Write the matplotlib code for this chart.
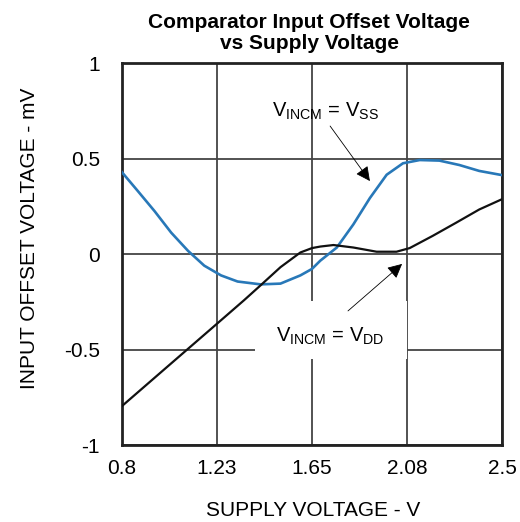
import numpy as np
import matplotlib.pyplot as plt
from matplotlib.patches import Rectangle

plt.rcParams["font.family"] = ["Liberation Sans", "DejaVu Sans"]
plt.rcParams["mathtext.fontset"] = "custom"
plt.rcParams["mathtext.rm"] = "Liberation Sans"
plt.rcParams["mathtext.it"] = "Liberation Sans"

# values
vdd_ss = [0.80, 0.872, 0.946, 1.02, 1.095, 1.168, 1.243, 1.317, 1.42, 1.509,
          1.598, 1.65, 1.687, 1.761, 1.835, 1.909, 1.984, 2.057, 2.132, 2.22,
          2.309, 2.398, 2.50]
vos_ss = [0.428, 0.328, 0.224, 0.112, 0.017, -0.061, -0.112, -0.144, -0.159,
          -0.155, -0.112, -0.078, -0.035, 0.034, 0.155, 0.293, 0.415, 0.475,
          0.492, 0.489, 0.466, 0.435, 0.413]

vdd_dd = [0.80, 1.00, 1.225, 1.346, 1.42, 1.509, 1.598, 1.65, 1.687, 1.746,
          1.835, 1.939, 2.028, 2.087, 2.19, 2.295, 2.398, 2.50]
vos_dd = [-0.796, -0.593, -0.365, -0.242, -0.164, -0.069, 0.008, 0.031, 0.039,
          0.047, 0.034, 0.012, 0.012, 0.031, 0.095, 0.164, 0.233, 0.287]

xticks = [0.8, 1.225, 1.65, 2.075, 2.5]
xlabels = ["0.8", "1.23", "1.65", "2.08", "2.5"]
yticks = [-1, -0.5, 0, 0.5, 1]
ylabels = ["-1", "-0.5", "0", "0.5", "1"]

fig = plt.figure(figsize=(5.2, 5.22), dpi=100)
ax = fig.add_axes([0.2346, 0.1475, 0.7308, 0.7318])

ax.plot(vdd_ss, vos_ss, color="#2878b8", lw=1.9, zorder=3,
        solid_joinstyle="round")
ax.plot(vdd_dd, vos_dd, color="#111111", lw=1.6, zorder=3,
        solid_joinstyle="round")

ax.set_xlim(0.8, 2.5)
ax.set_ylim(-1, 1)
ax.set_xticks(xticks)
ax.set_xticklabels(xlabels)
ax.set_yticks(yticks)
ax.set_yticklabels(ylabels)
ax.tick_params(length=0, labelsize=15)
ax.tick_params(axis="x", pad=10)
ax.tick_params(axis="y", pad=16)
ax.set_axisbelow(True)
ax.grid(True, color="#444444", lw=1.3)
for s in ax.spines.values():
    s.set_linewidth(2)
    s.set_color("#222222")

# white label box over the grid
ax.add_patch(Rectangle((1.395, -0.55), 0.68, 0.304, facecolor="white",
                       edgecolor="none", zorder=1.5))

ax.text(1.708, 0.749, r"V$_{\mathrm{INCM}}$ = V$_{\mathrm{SS}}$", fontsize=14.5,
        ha="center", va="center", zorder=4)
ax.annotate("", xy=(1.909, 0.382), xytext=(1.731, 0.670),
            arrowprops=dict(arrowstyle="-|>", lw=0.6, color="black",
                            mutation_scale=22, shrinkA=0, shrinkB=0), zorder=4)

ax.text(1.731, -0.429, r"V$_{\mathrm{INCM}}$ = V$_{\mathrm{DD}}$", fontsize=14.5,
        ha="center", va="center", zorder=4)
ax.annotate("", xy=(2.053, -0.052), xytext=(1.811, -0.298),
            arrowprops=dict(arrowstyle="-|>", lw=0.6, color="black",
                            mutation_scale=22, shrinkA=0, shrinkB=0), zorder=4)

fig.text(309 / 520, 1 - 33 / 522, "Comparator Input Offset Voltage\nvs Supply Voltage",
         ha="center", va="center", fontsize=15, fontweight="bold", linespacing=1.12)
fig.text(313 / 520, 1 - 510 / 522, "SUPPLY VOLTAGE - V", ha="center", va="center",
         fontsize=15)
fig.text(30 / 520, 1 - 238 / 522, "INPUT OFFSET VOLTAGE - mV", ha="center",
         va="center", rotation=90, fontsize=15)

fig.savefig("out.png", dpi=100)
